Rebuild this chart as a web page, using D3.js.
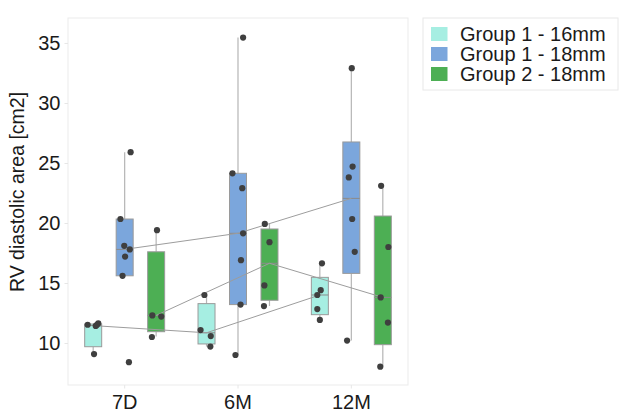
<!DOCTYPE html>
<html><head><meta charset="utf-8">
<script src="https://cdn.jsdelivr.net/npm/d3@7"></script>
<style>body{margin:0;background:#fff}svg{display:block;font-family:"Liberation Sans",Arial,sans-serif}</style>
</head><body><svg id="c" width="630" height="419"></svg>
<script>
const categories = ["7D", "6M", "12M"];
const groups = ["Group 1 - 16mm", "Group 1 - 18mm", "Group 2 - 18mm"];
const colors = ["#a6eee2", "#7ba6dc", "#4daf54"];
const yTicks = [10, 15, 20, 25, 30, 35];

// box statistics per group, one entry per category: [whiskerLow, q1, median, q3, whiskerHigh]
const g1_16_box = [[9.1, 9.69, 11.45, 11.58, 11.58], [9.7, 9.92, 10.85, 13.28, 14.0], [11.92, 12.36, 14.0, 15.47, 16.64]];
const g1_18_box = [[15.6, 15.6, 17.8, 20.33, 25.9], [9.0, 13.2, 19.14, 24.14, 35.45], [10.2, 15.8, 22.05, 26.75, 32.9]];
const g2_18_box = [[10.55, 10.94, 12.3, 17.6, 19.4], [13.08, 13.56, 16.64, 19.5, 19.92], [8.03, 9.86, 13.8, 20.58, 23.1]];

// individual observations per group and category
const g1_16_pts = [[11.52, 11.42, 11.64, 11.52, 9.08], [14.0, 11.08, 10.58, 9.7], [16.64, 14.4, 14.0, 12.83, 11.92]];
const g1_18_pts = [[25.9, 20.33, 18.1, 17.8, 17.2, 15.6, 8.4], [35.45, 24.14, 22.9, 19.14, 16.9, 13.2, 9.0], [32.9, 24.7, 23.8, 20.33, 17.6, 10.2]];
const g2_18_pts = [[19.4, 12.3, 12.2, 10.5], [19.92, 18.4, 14.8, 13.08], [23.1, 18.0, 13.8, 11.7, 8.03]];
// strip-plot jitter, as a fraction of half a box width
const g1_16_jit = [[-0.65, 0.3, 0.6, 0.45, 0.1], [-0.25, -0.7, 0.5, 0.45], [0.25, 0.1, -0.3, -0.3, 0.0]];
const g1_18_jit = [[0.7, -0.5, -0.05, 0.6, 0.05, -0.25, 0.5], [0.6, -0.65, 0.5, 0.6, 0.35, 0.3, -0.3], [0.05, 0.15, -0.3, 0.1, 0.4, -0.5]];
const g2_18_jit = [[0.1, -0.45, 0.6, -0.5], [-0.55, 0.0, -0.6, -0.65], [-0.2, 0.65, -0.25, 0.6, -0.3]];

const boxes = [g1_16_box, g1_18_box, g2_18_box];
const pts = [g1_16_pts, g1_18_pts, g2_18_pts];
const jit = [g1_16_jit, g1_18_jit, g2_18_jit];

const svg = d3.select("#c");
const L = 68, R = 408, T = 18, B = 385;
const x = d3.scaleBand().domain(categories).range([L, R]);
const xs = d3.scaleBand().domain(groups).range([0, x.bandwidth()]).paddingOuter(0.3);
const y = d3.scaleLinear().domain([6.5, 37.08]).range([B, T]);
const bw = xs.bandwidth() * 0.54;
const cx = (ci, gi) => x(categories[ci]) + xs(groups[gi]) + xs.bandwidth() / 2;

// frame
svg.append("rect").attr("x", L).attr("y", T).attr("width", R - L).attr("height", B - T)
  .attr("fill", "#fff").attr("stroke", "#ebebeb").attr("stroke-width", 1);

// axes
const yAxis = svg.append("g").attr("transform", `translate(${L},0)`)
  .call(d3.axisLeft(y).tickValues(yTicks).tickSize(3.5).tickPadding(4));
const xAxis = svg.append("g").attr("transform", `translate(0,${B})`)
  .call(d3.axisBottom(x).tickSize(3.5).tickPadding(6));
[yAxis, xAxis].forEach(a => {
  a.select(".domain").remove();
  a.selectAll("line").attr("stroke", "#e6e6e6");
  a.selectAll("text").attr("fill", "#1a1a1a").style("font-size", "20px")
    .style("font-family", '"Liberation Sans", Arial, sans-serif');
});

svg.append("text").attr("transform", `translate(24,192) rotate(-90)`)
  .attr("text-anchor", "middle").attr("fill", "#1a1a1a").style("font-size", "19.5px")
  .text("RV diastolic area [cm2]");

// boxes
groups.forEach((g, gi) => {
  boxes[gi].forEach((s, ci) => {
    const c = cx(ci, gi);
    const gg = svg.append("g");
    gg.append("line").attr("x1", c).attr("x2", c).attr("y1", y(s[4])).attr("y2", y(s[3]))
      .attr("stroke", "#b5b5b5").attr("stroke-width", 1.2);
    gg.append("line").attr("x1", c).attr("x2", c).attr("y1", y(s[1])).attr("y2", y(s[0]))
      .attr("stroke", "#b5b5b5").attr("stroke-width", 1.2);
    gg.append("rect").attr("x", c - bw / 2).attr("y", y(s[3])).attr("width", bw)
      .attr("height", y(s[1]) - y(s[3])).attr("fill", colors[gi])
      .attr("stroke", "#9a9a9a").attr("stroke-width", 1);
    gg.append("line").attr("x1", c - bw / 2).attr("x2", c + bw / 2)
      .attr("y1", y(s[2])).attr("y2", y(s[2])).attr("stroke", "#8a8a8a").attr("stroke-width", 1);
  });
});

// median connecting lines
const line = d3.line().x(d => d[0]).y(d => d[1]);
groups.forEach((g, gi) => {
  const p = boxes[gi].map((s, ci) => [cx(ci, gi), y(s[2])]);
  svg.append("path").attr("d", line(p)).attr("fill", "none")
    .attr("stroke", "#9d9d9d").attr("stroke-width", 1);
});

// points
groups.forEach((g, gi) => {
  pts[gi].forEach((arr, ci) => {
    arr.forEach((v, k) => {
      svg.append("circle").attr("cx", cx(ci, gi) + jit[gi][ci][k] * bw / 2)
        .attr("cy", y(v)).attr("r", 3.1).attr("fill", "#3f3f3f");
    });
  });
});

// legend
const lg = svg.append("g");
lg.append("rect").attr("x", 423).attr("y", 18).attr("width", 195).attr("height", 72)
  .attr("fill", "#fff").attr("stroke", "#e8e8e8");
groups.forEach((g, gi) => {
  lg.append("rect").attr("x", 431).attr("y", 27 + gi * 20).attr("width", 16.5).attr("height", 14)
    .attr("fill", colors[gi]);
  lg.append("text").attr("x", 460).attr("y", 41 + gi * 20).attr("fill", "#1a1a1a")
    .style("font-size", "20px").text(g);
});
</script>
</body></html>
